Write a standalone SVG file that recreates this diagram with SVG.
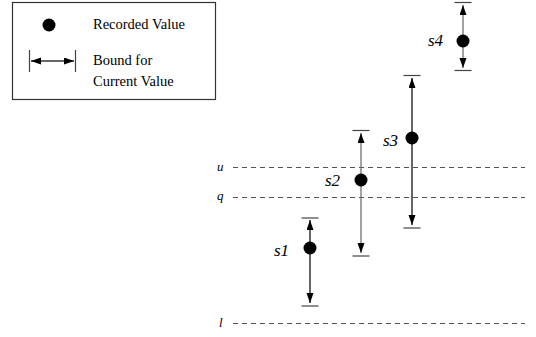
<svg xmlns="http://www.w3.org/2000/svg" width="536" height="337" viewBox="0 0 536 337">
<style>
  .lbl{font-family:"Liberation Serif","Times New Roman",serif;font-size:14.5px;fill:#000}
  .sl{font-family:"Liberation Serif","Times New Roman",serif;font-style:italic;font-size:17px;fill:#000}
  .ll{font-family:"Liberation Serif","Times New Roman",serif;font-style:italic;font-size:13px;fill:#000}
  .dash{stroke:#555;stroke-width:1;stroke-dasharray:5 4;fill:none}
  .bar{stroke:#444;stroke-width:1.2;fill:none}
  .vl{stroke:#000;stroke-width:1.2;fill:none;marker-end:url(#ah)}
  .vg{stroke:#666;stroke-width:1.2;fill:none;marker-end:url(#ah)}
  .dot{fill:#000}
</style>
<defs>
  <marker id="ah" markerUnits="userSpaceOnUse" markerWidth="11" markerHeight="8" refX="10" refY="3.5" orient="auto">
    <path d="M0,0 L10,3.5 L0,7 z" fill="#000"/>
  </marker>
</defs>
<rect width="536" height="337" fill="#fff"/>
<g id="legend">
  <rect x="12.5" y="2.5" width="203" height="97" fill="none" stroke="#333" stroke-width="1.2"/>
  <circle class="dot" cx="49" cy="25" r="6.5"/>
  <text class="lbl" x="93" y="29">Recorded Value</text>
  <line class="bar" x1="29.5" y1="50" x2="29.5" y2="72"/>
  <line class="bar" x1="75.5" y1="50" x2="75.5" y2="72"/>
  <line x1="52" y1="61" x2="31" y2="61" stroke="#000" stroke-width="1.2" marker-end="url(#ah)"/>
  <line x1="52" y1="61" x2="74" y2="61" stroke="#000" stroke-width="1.2" marker-end="url(#ah)"/>
  <text class="lbl" x="93" y="65">Bound for</text>
  <text class="lbl" x="93" y="86">Current Value</text>
</g>
<g id="levels">
  <line class="dash" x1="233" y1="167.5" x2="525" y2="167.5"/>
  <text class="ll" x="217" y="171">u</text>
  <line class="dash" x1="233" y1="197.5" x2="525" y2="197.5"/>
  <text class="ll" x="217" y="200">q</text>
  <line class="dash" x1="233" y1="323.5" x2="525" y2="323.5"/>
  <text class="ll" x="219" y="327">l</text>
</g>
<g id="connectors">
  <line class="vl" x1="310" y1="248" x2="310" y2="220"/>
  <line class="vl" x1="310" y1="248" x2="310" y2="303"/>
  <line class="vg" x1="361" y1="180" x2="361" y2="133"/>
  <line class="vg" x1="361" y1="180" x2="361" y2="253"/>
  <line class="vl" x1="412" y1="138" x2="412" y2="78"/>
  <line class="vl" x1="412" y1="138" x2="412" y2="225"/>
  <line class="vg" x1="463" y1="41" x2="463" y2="5"/>
  <line class="vg" x1="463" y1="41" x2="463" y2="68"/>
</g>
<g id="s1">
  <line class="bar" x1="301.5" y1="218" x2="318.5" y2="218"/>
  <line class="bar" x1="301.5" y1="306" x2="318.5" y2="306"/>
  <circle class="dot" cx="310" cy="248" r="6.5"/>
  <text class="sl" x="274" y="256">s1</text>
</g>
<g id="s2">
  <line class="bar" x1="352.5" y1="130.5" x2="369.5" y2="130.5"/>
  <line class="bar" x1="352.5" y1="256" x2="369.5" y2="256"/>
  <circle class="dot" cx="361" cy="180" r="6.5"/>
  <text class="sl" x="325" y="186">s2</text>
</g>
<g id="s3">
  <line class="bar" x1="403.5" y1="75.5" x2="420.5" y2="75.5"/>
  <line class="bar" x1="403.5" y1="228" x2="420.5" y2="228"/>
  <circle class="dot" cx="412" cy="138" r="6.5"/>
  <text class="sl" x="383" y="146">s3</text>
</g>
<g id="s4">
  <line class="bar" x1="454.5" y1="2.5" x2="471.5" y2="2.5"/>
  <line class="bar" x1="454.5" y1="70.5" x2="471.5" y2="70.5"/>
  <circle class="dot" cx="463" cy="41" r="6.5"/>
  <text class="sl" x="428" y="46">s4</text>
</g>
</svg>
